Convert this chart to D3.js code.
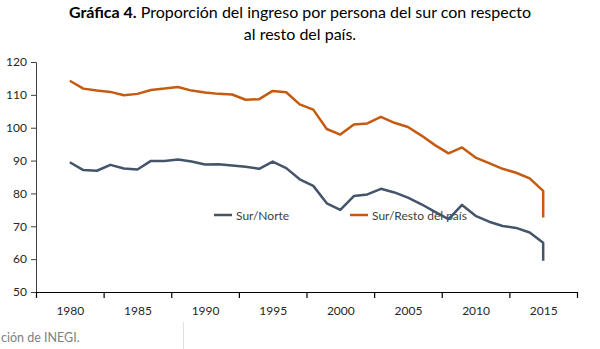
<!DOCTYPE html>
<html>
<head>
<meta charset="utf-8">
<script src="https://cdn.jsdelivr.net/npm/d3@7"></script>
<style>
  body { margin: 0; background: #fff; }
  svg { display: block; font-family: Lato, "Open Sans", sans-serif; }
  .axis text { font-family: Lato, sans-serif; font-size: 12px; fill: #262626; }
</style>
</head>
<body>
<div id="chart"></div>
<script>
// yearly series; 2015 appears twice, the last value closes each line with a drop
const years = [1980, 1981, 1982, 1983, 1984, 1985, 1986, 1987, 1988, 1989,
               1990, 1991, 1992, 1993, 1994, 1995, 1996, 1997, 1998, 1999,
               2000, 2001, 2002, 2003, 2004, 2005, 2006, 2007, 2008, 2009,
               2010, 2011, 2012, 2013, 2014, 2015, 2015];
const surNorte = [89.5, 87.1, 86.9, 88.7, 87.6, 87.3, 89.9, 89.9, 90.3, 89.7,
                  88.8, 88.9, 88.5, 88.1, 87.5, 89.7, 87.7, 84.3, 82.3, 77.0,
                  75.0, 79.2, 79.7, 81.4, 80.3, 78.7, 76.7, 74.4, 72.2, 76.5,
                  73.2, 71.4, 70.1, 69.5, 68.1, 65.0, 59.5];
const surResto = [114.3, 111.9, 111.3, 110.9, 109.9, 110.3, 111.5, 111.9, 112.4, 111.3,
                  110.7, 110.3, 110.1, 108.5, 108.7, 111.2, 110.8, 107.1, 105.5, 99.6,
                  97.9, 101.0, 101.3, 103.3, 101.5, 100.2, 97.6, 94.7, 92.2, 94.0,
                  90.9, 89.2, 87.5, 86.3, 84.6, 80.8, 72.7];
const yTicks = [50, 60, 70, 80, 90, 100, 110, 120];
const xLabels = [1980, 1985, 1990, 1995, 2000, 2005, 2010, 2015];
const xBounds = [1977.5, 1982.5, 1987.5, 1992.5, 1997.5, 2002.5, 2007.5, 2012.5, 2017.5];

const series = [
  { name: 'Sur/Norte', values: surNorte, color: '#44546a' },
  { name: 'Sur/Resto del país', values: surResto, color: '#c55a11' }
];

const width = 600, height = 349;

const svg = d3.select('#chart').append('svg')
  .attr('width', width).attr('height', height);

const x = d3.scaleLinear().domain([1977.5, 2017.5]).range([36, 577]);
const y = d3.scaleLinear().domain([50, 120]).range([292, 62]);

// title
const title = svg.append('text')
  .attr('text-anchor', 'middle')
  .attr('font-size', 16)
  .attr('fill', '#000');
const t1 = title.append('tspan').attr('x', 300).attr('y', 18);
t1.append('tspan').attr('font-weight', 'bold').text('Gráfica 4.');
t1.append('tspan').text(' Proporción del ingreso por persona del sur con respecto');
title.append('tspan').attr('x', 300).attr('y', 40).text('al resto del país.');

// y axis
const yAxis = svg.append('g')
  .attr('class', 'axis')
  .attr('transform', 'translate(36,0)')
  .call(d3.axisLeft(y).tickValues(yTicks).tickSize(5).tickPadding(4));
yAxis.selectAll('line, path').attr('stroke', '#404040');

// x axis: ticks between the 5-year groups, labels on the years
const xAxis = svg.append('g')
  .attr('class', 'axis')
  .attr('transform', 'translate(0,292)')
  .call(d3.axisBottom(x).tickValues(xBounds).tickSize(6).tickSizeOuter(0).tickFormat(''));
xAxis.selectAll('line, path').attr('stroke', '#000').attr('stroke-width', 1.2);

svg.append('g')
  .attr('class', 'axis')
  .attr('transform', 'translate(0,292)')
  .call(d3.axisBottom(x).tickValues(xLabels).tickSize(0).tickPadding(14).tickFormat(d3.format('d')))
  .call(g => g.select('.domain').remove());

// legend
const legend = svg.append('g').attr('transform', 'translate(0,215)');
const legendX = [214, 350];
series.forEach((s, i) => {
  legend.append('line')
    .attr('x1', legendX[i]).attr('x2', legendX[i] + 18)
    .attr('y1', 0).attr('y2', 0)
    .attr('stroke', s.color).attr('stroke-width', 2.5);
  legend.append('text')
    .attr('x', legendX[i] + 22).attr('y', 4.5)
    .attr('font-size', 12).attr('fill', '#404040')
    .text(s.name);
});

// lines
const line = d3.line()
  .x((d, i) => x(years[i]))
  .y(d => y(d));

svg.selectAll('.series')
  .data(series)
  .join('path')
  .attr('class', 'series')
  .attr('fill', 'none')
  .attr('stroke', d => d.color)
  .attr('stroke-width', 2.5)
  .attr('stroke-linejoin', 'round')
  .attr('d', d => line(d.values));

// source note
svg.append('text')
  .attr('x', 1).attr('y', 342)
  .attr('font-size', 12.5).attr('fill', '#7f7f7f')
  .text('ción de INEGI.');
svg.append('line')
  .attr('x1', 183.5).attr('x2', 183.5)
  .attr('y1', 322).attr('y2', 349)
  .attr('stroke', '#e0e0e0');
</script>
</body>
</html>
